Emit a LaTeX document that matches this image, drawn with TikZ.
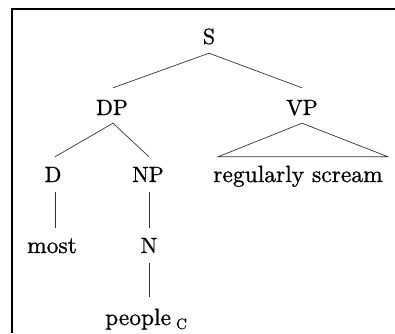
\documentclass[tikz,border=0pt]{standalone}
\usepackage{fontspec}
\setmainfont{lmroman10-regular.otf}[FakeBold=0.9]
\begin{document}
\begin{tikzpicture}[x=1pt,y=-1pt,
  lbl/.style={anchor=base,inner sep=0pt,text height=15pt,text depth=4pt,font=\fontsize{22}{24}\selectfont},
  word/.style={lbl,font=\fontsize{23.5}{25}\selectfont},
  branch/.style={draw=black!80,line width=0.7pt},
  frame/.style={draw=black,line width=1.6pt}]
\useasboundingbox (0,0) rectangle (395,333);
\draw[frame] (395,9) -- (12,9) -- (12,333);
\node[lbl] (S) at (209,44) {S};
\node[lbl] (DP) at (112,115) {DP};
\node[lbl] (VP) at (302,115) {VP};
\node[lbl] (D) at (53,182) {D};
\node[lbl] (NP) at (148,182) {NP};
\node[word] (rs) at (298,182) {regularly scream};
\node[word] (most) at (52,253) {most};
\node[lbl] (N) at (149,253) {N};
\node[word] (people) at (146,325) {people\hspace{5pt}\raisebox{-4pt}{\fontsize{15}{15}\selectfont C}};
\draw[branch] ([yshift=-5pt]S.south) -- ([xshift=1pt,yshift=12pt]DP.north);
\draw[branch] ([yshift=-5pt]S.south) -- ([yshift=12pt]VP.north);
\draw[branch] ([xshift=1pt,yshift=-4pt]DP.south) -- ([xshift=2pt,yshift=10pt]D.north);
\draw[branch] ([xshift=1pt,yshift=-4pt]DP.south) -- ([xshift=1pt,yshift=10pt]NP.north);
\draw[branch] ([xshift=2pt,yshift=-6pt]D.south) -- ([xshift=2pt,yshift=10pt]D.south |- most.north);
\draw[branch] ([xshift=1pt,yshift=-6pt]NP.south) -- ([yshift=10pt]N.north);
\draw[branch] ([yshift=-6pt]N.south) -- ([yshift=13pt]N.south |- people.north);
\draw[branch] ([yshift=-4pt]VP.south) -- ([xshift=-80pt,yshift=10pt]rs.north) -- ([xshift=90pt,yshift=10pt]rs.north) -- cycle;
\end{tikzpicture}
\end{document}
